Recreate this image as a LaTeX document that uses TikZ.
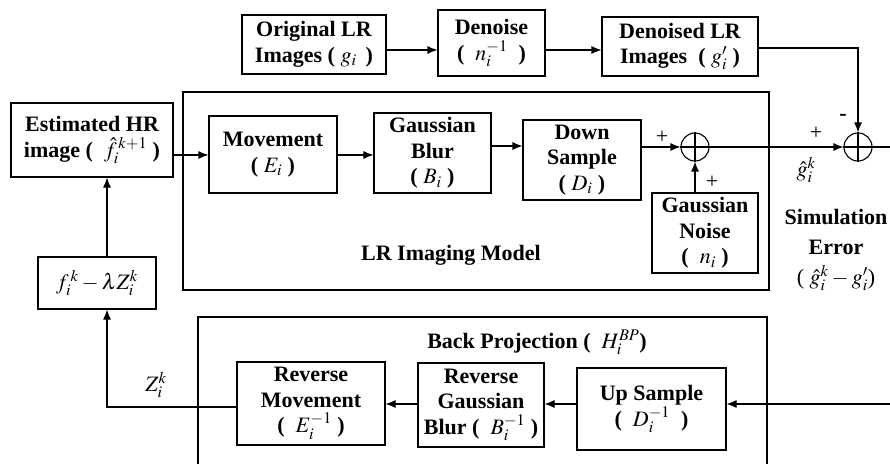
\documentclass[tikz,border=0pt]{standalone}
\usepackage{mathptmx}
\usepackage{fontspec}
\setmainfont{Liberation Serif}
\usetikzlibrary{arrows.meta}
\begin{document}
\begin{tikzpicture}[x=1pt,y=-1pt, line width=1.1pt,
  box/.style={draw, align=center, inner sep=0pt, font=\bfseries\fontsize{22}{25.5}\selectfont},
  frame/.style={draw, inner sep=0pt},
  arr/.style={-{Latex[length=10pt,width=8pt]}},
  sumc/.style={draw, circle, minimum size=28pt, inner sep=0pt},
  lbl/.style={font=\fontsize{22}{25}\selectfont, inner sep=0pt},
  blbl/.style={font=\bfseries\fontsize{22}{30}\selectfont, inner sep=0pt, align=center}]
\useasboundingbox (0,0) rectangle (890,463);
% big frames
\node[frame, minimum width=586pt, minimum height=198pt] (lrm) at (476,191) {};
\draw (198,470) -- (198,317) -- (767,317) -- (767,470);
% top row
\node[box, minimum width=144pt, minimum height=59pt] (orig) at (314,44.5) {Original LR\\Images ( $g_i$\, )};
\node[box, minimum width=107pt, minimum height=66pt] (den) at (491.5,43) {Denoise\\( \ $n_i^{-1}$ \ )};
\node[box, minimum width=156pt, minimum height=59pt] (dlr) at (680,46.5) {Denoised LR\\Images \ ( $g_i^{\prime}$ )};
% middle row
\node[box, minimum width=162pt, minimum height=74pt] (est) at (92,140) {Estimated HR\\image ( \ $\hat f_i^{\,k+1}$ )};
\node[box, minimum width=128pt, minimum height=77pt] (mov) at (273,154.5) {Movement\\( $E_i$ )};
\node[box, minimum width=117pt, minimum height=80pt] (gb) at (432.5,153) {Gaussian\\Blur\\( $B_i$ )};
\node[box, minimum width=118pt, minimum height=80pt] (ds) at (582,160) {Down\\Sample\\( $D_i$ )};
\node[box, minimum width=106pt, minimum height=80pt] (gn) at (705,233) {Gaussian\\Noise\\( \ $n_i$ )};
\node[sumc] (c1) at (695,147) {};
\node[sumc] (c2) at (858,147) {};
\draw (c1.north) -- (c1.south) (c1.west) -- (c1.east);
\draw (c2.north) -- (c2.south) (c2.west) -- (c2.east);
\node[box, font=\fontsize{22}{25}\selectfont, minimum width=118pt, minimum height=52pt] (fb) at (97,283) {$f_i^{\,k} - \lambda Z_i^k$};
% bottom row
\node[box, minimum width=148pt, minimum height=83pt] (rm) at (311,403.5) {Reverse\\Movement\\( \ $E_i^{-1}$ )};
\node[box, minimum width=126pt, minimum height=84pt] (rgb) at (481,405) {Reverse\\Gaussian\\Blur ( \ $B_i^{-1}$ )};
\node[box, minimum width=149pt, minimum height=82pt] (us) at (651.5,409) {Up Sample\\( \ $D_i^{-1}$ \ )};
% labels
\node[lbl] (p1) at (662,137) {+};
\node[lbl] (p2) at (712,182) {+};
\node[lbl] (p3) at (816,133) {+};
\node[lbl, font=\bfseries\fontsize{22}{25}\selectfont] (m1) at (843,117) {-};
\node[lbl] (gh) at (806,170) {$\hat g_i^k$};
\node[lbl] (zl) at (156,385) {$Z_i^k$};
\node[blbl] (lrt) at (451,255) {LR Imaging Model};
\node[blbl] (bpt) at (537,342) {Back Projection ( \ $H_i^{BP}$)};
\node[blbl] (se) at (836,250) {Simulation\\Error\\{\mdseries( $\hat g_i^k - g_i^{\prime}$)}};
% coordinates
\coordinate (rE) at (890,147);
\coordinate (rB) at (890,404);
% connectors
\draw[arr] (orig.east |- 0,50) -- (den.west |- 0,50);
\draw[arr] (den.east |- 0,50) -- (dlr.west |- 0,50);
\draw[arr] (dlr.east |- 0,48) -| (c2.north);
\draw[arr] (est.east |- 0,155) -- (mov.west |- 0,155);
\draw[arr] (mov.east |- 0,155) -- (gb.west |- 0,155);
\draw[arr] (gb.east |- 0,146) -- (ds.west |- 0,146);
\draw[arr] (ds.east |- c1) -- (c1.west);
\draw[arr] (gn.north -| c1) -- (c1.south);
\draw[arr] (c1.east) -- (c2.west);
\draw (c2.east) -- (rE);
\draw[arr] (rB) -- (us.east |- rB);
\draw[arr] (us.west |- 0,404) -- (rgb.east |- 0,404);
\draw[arr] (rgb.west |- 0,404) -- (rm.east |- 0,404);
\draw[arr] (rm.west |- 0,407) -| ([xshift=10pt]fb.south);
\draw[arr] ([xshift=10pt]fb.north) -- ([xshift=15pt]est.south);
\end{tikzpicture}
\end{document}
